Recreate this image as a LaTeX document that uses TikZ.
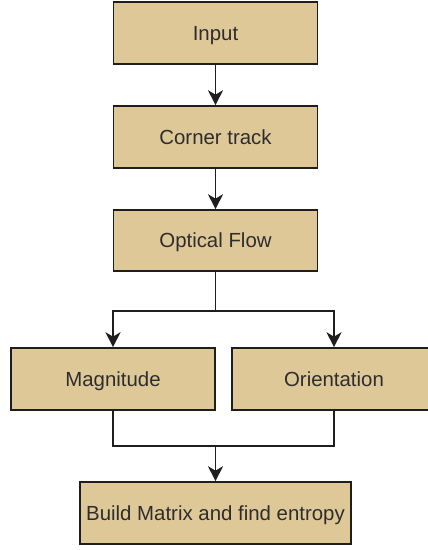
\documentclass[tikz,border=0pt]{standalone}
\usepackage{fontspec}
\setmainfont{Liberation Sans}
\usepackage{tikz}
\usetikzlibrary{arrows.meta}
\definecolor{boxtan}{RGB}{223,200,152}
\definecolor{inkgrey}{RGB}{30,30,30}
\definecolor{textgrey}{RGB}{45,45,45}
\tikzset{
  stage/.style={draw=inkgrey, fill=boxtan, line width=1.6pt, minimum width=204pt,
                minimum height=62pt, inner sep=0pt, text=textgrey,
                text height=14.6pt, text depth=0pt,
                font=\fontsize{20.4}{24}\selectfont},
  flow/.style={draw=inkgrey, line width=1.6pt, -{Stealth[length=15pt,width=15pt,inset=4.5pt]}},
  link/.style={draw=inkgrey, line width=1.6pt}
}

\begin{document}
\begin{tikzpicture}[x=1pt,y=-1pt]
            \useasboundingbox (0,0) rectangle (428,550);
            \node [stage] (input)   at (215.5,33)    {Input};
            \node [stage] (corner)  at (215.5,137)   {Corner track};
            \node [stage, minimum height=61pt] (optical) at (215.5,240.5) {Optical Flow};
            \node [stage] (magn)    at (113,379)     {Magnitude};
            \node [stage] (orient)  at (334,379)     {Orientation};
            \node [stage, minimum width=271pt] (build) at (215.5,513) {Build Matrix and find entropy};
            \coordinate (split) at (215.5,311);
            \coordinate (merge) at (215.5,446);
            \draw [flow] (input) -- (corner);
            \draw [flow] (corner) -- (optical);
            \draw [link] (optical) -- (split);
            \draw [flow] (split) -| (magn);
            \draw [flow] (split) -| (orient);
            \draw [link] (magn) |- (merge);
            \draw [link] (orient) |- (merge);
            \draw [flow] (merge) -- (build);
        \end{tikzpicture}
\end{document}
